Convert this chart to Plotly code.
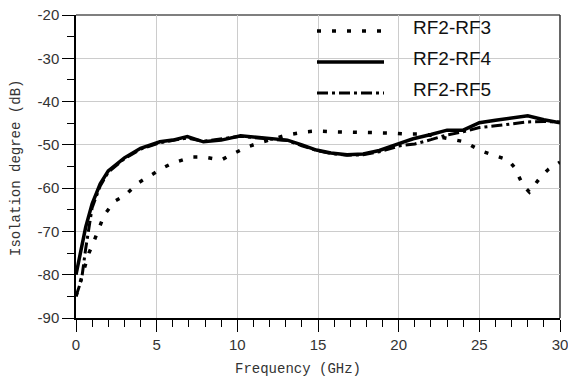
import plotly.graph_objects as go

# ---- data ----
series_names = ["RF2-RF3", "RF2-RF4", "RF2-RF5"]

freq_rf3 = [0, 0.45, 0.8, 1.1, 1.5, 1.75, 2.4, 3.0, 3.85, 4.45, 5.4, 6.0, 7.2, 7.9, 9.0,
            9.6, 10.6, 11.3, 13.1, 14.2, 14.9, 16.1, 16.8, 17.9, 18.7, 19.7, 20.5, 21.6,
            23.4, 24.1, 25.1, 25.8, 26.8, 27.2, 27.7, 28.1, 28.8, 29.3, 29.9, 30]
iso_rf3 = [-85, -79, -75, -72.4, -68.5, -66.2, -63, -61.8, -58.8, -57.4, -55.3, -54.2, -52.8,
           -52.8, -53.5, -52.3, -50.5, -49.6, -47.7, -47, -46.8, -47, -47, -47, -47.2, -47.3,
           -47.5, -47.5, -48.9, -49.3, -51.4, -52.3, -53.5, -55.3, -59.3, -60.9, -57.4,
           -55.6, -54.2, -54]

freq_rf4 = [0, 0.3, 0.6, 1.0, 1.5, 2.0, 3.0, 4.0, 5.2, 6.0, 6.9, 7.9, 9.0, 10.2, 11.5, 13.1,
            14.0, 14.9, 15.8, 16.8, 17.8, 18.8, 20.1, 20.9, 22.0, 23.0, 24.0, 25.0, 26.0,
            27.0, 28.0, 29.0, 30]
iso_rf4 = [-80, -74, -69, -63.6, -59, -56, -53, -50.8, -49.3, -48.9, -48.1, -49.3, -48.9,
           -47.9, -48.3, -48.9, -50.0, -51.2, -51.9, -52.3, -52.1, -51.3, -49.6, -48.6,
           -47.6, -46.6, -46.6, -44.9, -44.3, -43.9, -43.3, -44.2, -44.9]

freq_rf5 = [0, 0.35, 0.6, 1.0, 1.5, 2.0, 3.0, 4.0, 5.2, 6.0, 6.9, 7.9, 9.0, 10.2, 11.5, 13.1,
            14.0, 14.9, 15.8, 16.8, 17.8, 18.8, 20.1, 21.0, 22.0, 23.0, 24.0, 25.0, 26.0,
            27.0, 28.0, 29.0, 30]
iso_rf5 = [-85, -81, -74, -64.5, -59.5, -56.3, -53.2, -51, -49.5, -49.0, -48.4, -49.2, -48.6,
           -48.0, -48.5, -49.0, -50.2, -51.3, -52.0, -52.4, -52.3, -51.6, -50.2, -49.8,
           -48.8, -47.7, -47.0, -46.0, -45.6, -45.2, -44.7, -44.6, -44.7]

x_range = [0, 30]
y_range = [-90, -20]
x_tickvals = [0, 5, 10, 15, 20, 25, 30]
x_ticktext = ["0", "5", "10", "15", "20", "25", "30"]
y_tickvals = [-90, -80, -70, -60, -50, -40, -30, -20]
y_ticktext = ["-90", "-80", "-70", "-60", "-50", "-40", "-30", "-20"]

# ---- styles ----
dot_dash = "4px,11px"
dashdot_dash = "11px,4px,3px,4px"
styles = [
    dict(color="black", width=3.5, dash=dot_dash),
    dict(color="black", width=3.5, dash="solid"),
    dict(color="black", width=3, dash=dashdot_dash),
]

fig = go.Figure()
for name, xs, ys, st in zip(series_names, [freq_rf3, freq_rf4, freq_rf5],
                            [iso_rf3, iso_rf4, iso_rf5], styles):
    fig.add_trace(go.Scatter(x=xs, y=ys, mode="lines", name=name, line=st,
                             showlegend=False))

W, H = 568, 378
ml, mr, mt, mb = 76, 8, 15, 60
pw, ph = W - ml - mr, H - mt - mb

def px_x(p):
    return (p - ml) / pw

def px_y(p):
    return 1 - (p - mt) / ph

# manual legend
shapes = []
annotations = []
legend_line_y = [31, 62, 93]
legend_text_y = [28, 59, 89]
for name, st, ly, ty in zip(series_names, styles, legend_line_y, legend_text_y):
    shapes.append(dict(type="line", xref="paper", yref="paper",
                       x0=px_x(317), x1=px_x(384), y0=px_y(ly), y1=px_y(ly),
                       line=dict(color="black", width=st["width"], dash=st["dash"])))
    annotations.append(dict(text=name, xref="paper", yref="paper", x=px_x(411), y=px_y(ty),
                            xanchor="left", yanchor="middle", showarrow=False,
                            font=dict(family="Liberation Sans, Arial", size=19, color="#111")))

# top and right frame
shapes.append(dict(type="line", xref="paper", yref="paper", x0=0, x1=1, y0=1, y1=1,
                   line=dict(color="#555", width=1.5), layer="below"))
shapes.append(dict(type="line", xref="paper", yref="paper", x0=1, x1=1, y0=0, y1=1,
                   line=dict(color="#333", width=1.5), layer="below"))

# axis titles
annotations.append(dict(text="Frequency (GHz)", xref="paper", yref="paper",
                        x=px_x(298), y=px_y(369), xanchor="center", yanchor="middle",
                        showarrow=False,
                        font=dict(family="Liberation Mono, Courier New", size=14, color="#333")))
annotations.append(dict(text="Isolation degree (dB)", xref="paper", yref="paper",
                        x=px_x(16), y=px_y(168), xanchor="center", yanchor="middle",
                        textangle=-90, showarrow=False,
                        font=dict(family="Liberation Mono, Courier New", size=14, color="#333")))

tick_font = dict(family="Liberation Sans, Arial", size=15, color="#333")

fig.update_layout(
    width=W, height=H,
    margin=dict(l=ml, r=mr, t=mt, b=mb, autoexpand=False),
    paper_bgcolor="white", plot_bgcolor="white",
    shapes=shapes, annotations=annotations,
    showlegend=False,
    xaxis=dict(range=x_range, tickmode="array", tickvals=x_tickvals, ticktext=x_ticktext,
               showgrid=True, gridcolor="#cccccc", ticklabeloverflow="allow", automargin=False,
               gridwidth=1, zeroline=False, showline=True, linecolor="black", linewidth=1.5,
               ticks="outside", ticklen=12, tickwidth=1.3, tickcolor="black",
               tickfont=tick_font,
               minor=dict(dtick=1, tick0=0, ticks="outside", ticklen=7, tickwidth=1,
                          tickcolor="black", showgrid=False)),
    yaxis=dict(range=y_range, tickmode="array", tickvals=y_tickvals, ticktext=y_ticktext,
               showgrid=True, gridcolor="#cccccc", automargin=False,
               gridwidth=1, zeroline=False, showline=True, linecolor="black", linewidth=1.5,
               ticks="outside", ticklen=12, tickwidth=1.3, tickcolor="black",
               tickfont=tick_font,
               minor=dict(dtick=5, tick0=-90, ticks="outside", ticklen=7, tickwidth=1,
                          tickcolor="black", showgrid=False)),
)

fig.write_html("out.html")
